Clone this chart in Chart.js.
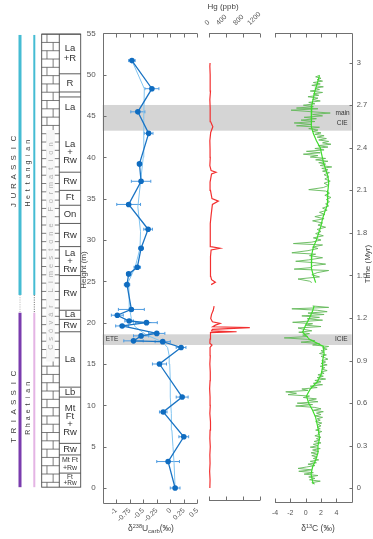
<!DOCTYPE html>
<html><head><meta charset="utf-8">
<script src="https://cdn.jsdelivr.net/npm/chart.js@4.4.1/dist/chart.umd.min.js"></script>
<style>
html,body{margin:0;padding:0;background:#fff;}
#wrap{position:relative;width:373px;height:539px;overflow:hidden;background:#fff}
canvas{position:absolute;left:0;top:0}
</style></head><body><div id="wrap">
<canvas id="cU" width="373" height="539"></canvas>
<canvas id="cHg" width="373" height="539"></canvas>
<canvas id="cC" width="373" height="539"></canvas>
</div>
<script>
// ================= DATA =================
// δ238U carb (height in m, value in ‰, 2σ half-width)
const uHeight = [0.0, 3.2, 6.2, 9.2, 11.0, 15.0, 17.0, 17.7, 17.8, 18.4, 18.7, 19.6, 20.0, 20.2, 20.9, 21.6, 24.6, 25.9, 26.7, 29.0, 31.3, 34.3, 37.1, 39.2, 42.9, 45.5, 48.3, 51.7];
const uValue  = [0.09, -0.04, 0.25, -0.13, 0.22, -0.20, 0.20, -0.14, -0.68, -0.54, -0.25, -0.89, -0.44, -0.76, -0.98, -0.72, -0.80, -0.77, -0.61, -0.54, -0.41, -0.77, -0.54, -0.57, -0.40, -0.60, -0.34, -0.71];
const uErr    = [0.09, 0.21, 0.09, 0.07, 0.11, 0.13, 0.09, 0.14, 0.18, 0.14, 0.15, 0.12, 0.20, 0.08, 0.11, 0.24, 0.05, 0.04, 0.06, 0.04, 0.08, 0.22, 0.18, 0.035, 0.08, 0.13, 0.13, 0.06];
// smoothed δ238U
const uSmoothH = [0, 3, 5, 7, 9, 11, 13, 15, 16, 17, 17.7, 18.5, 19.5, 20.5, 21.6, 23, 25, 26.7, 29, 31, 34, 37, 40, 42.9, 45, 48.3, 51.7];
const uSmoothV = [0.09, 0.07, 0.05, 0.03, 0.02, 0.0, 0.0, -0.01, -0.02, -0.05, -0.15, -0.44, -0.65, -0.72, -0.75, -0.76, -0.77, -0.65, -0.56, -0.55, -0.60, -0.55, -0.50, -0.49, -0.49, -0.48, -0.71];

// Hg (ppb) vs height (m)
const hgSeries = [[0,20],[1,25],[2,15],[3,25],[4,20],[5,30],[6,20],[7,25],[8,35],[9,20],[10,30],[11,25],[12,15],[13,25],[14,30],[15,20],[16,30],[17,25],[17.3,70],[17.5,20],[18,25],[18.5,30],[18.8,40],[18.9,650],[19.0,60],[19.2,80],[19.4,960],[19.5,90],[19.7,150],[19.9,260],[20.1,80],[20.5,40],[21.0,60],[21.5,100],[22.0,120],[null,null],[24.6,50],[24.9,150],[25.2,60],[25.6,40],[26,30],[27,45],[28,30],[28.8,50],[29.0,260],[29.2,40],[30,25],[31,35],[32,30],[33,50],[34.3,80],[34.7,220],[35.0,70],[36,35],[37,25],[38.0,60],[38.2,165],[38.4,50],[39,20],[40,30],[41,25],[42,20],[43,40],[43.7,90],[44.3,40],[45,25],[46,30],[47,20],[48,35],[49,25],[50,30],[51,20],[51.4,25]];

// δ13C raw (time Myr, value ‰)
const c13Raw = [[2.91,1.8],[2.90,1.3],[2.89,2.0],[2.88,1.5],[2.87,2.2],[2.86,1.0],[2.85,1.9],[2.84,0.8],[2.83,2.3],[2.82,1.2],[2.81,1.8],[2.80,0.6],[2.79,2.2],[2.78,1.0],[2.77,1.7],[2.76,0.3],[2.75,1.6],[2.74,0.9],[2.73,1.9],[2.72,0.4],[2.71,1.2],
[2.70,-0.3],[2.69,1.0],[2.68,-1.2],[2.675,1.6],[2.665,-1.9],[2.655,0.6],[2.645,3.2],[2.635,0.9],[2.625,2.2],[2.615,-0.2],[2.605,1.4],[2.595,-0.6],[2.585,1.2],[2.575,-1.5],[2.565,0.8],[2.555,-1.2],[2.545,1.8],[2.535,0.4],[2.525,1.6],[2.515,0.9],
[2.505,2.0],[2.495,1.2],[2.485,2.4],[2.475,1.5],[2.465,2.7],[2.455,1.7],[2.445,3.0],[2.435,2.2],[2.425,3.3],[2.415,1.6],[2.405,2.9],[2.395,1.2],[2.385,2.4],[2.375,0.1],[2.365,1.9],[2.355,-0.3],[2.345,1.6],[2.335,0.6],[2.325,2.6],[2.315,1.3],[2.305,2.9],[2.295,1.7],[2.285,2.6],[2.275,1.9],[2.265,3.4],[2.255,2.1],[2.245,2.9],[2.235,2.2],[2.225,3.1],[2.21,2.4],[2.195,3.0],[2.18,2.5],[2.165,3.2],[2.15,2.4],[2.135,3.0],[2.12,2.3],[2.105,0.4],[2.095,2.6],[2.08,3.1],[2.065,2.5],[2.05,3.3],[2.035,2.7],[2.02,3.1],[2.005,2.6],[1.99,3.0],[1.975,2.2],[1.96,2.8],[1.945,1.8],[1.93,2.5],[1.915,1.2],[1.90,2.4],[1.885,0.9],[1.87,2.2],[1.855,1.6],[1.84,2.6],[1.825,1.5],[1.81,2.0],[1.795,1.3],[1.78,2.3],[1.765,1.0],[1.75,2.0],[1.735,0.8],[1.725,-1.6],[1.715,2.2],[1.70,0.9],[1.69,1.6],[1.675,0.3],[1.66,-1.8],[1.65,1.3],[1.64,0.5],[1.625,2.2],[1.61,0.4],[1.60,-1.3],[1.59,1.2],[1.58,2.6],[1.57,1.0],[1.555,0.6],[1.545,-1.5],[1.535,3.0],[1.52,1.5],[1.505,0.8],[1.49,1.8],[1.475,-1.0],[1.46,0.5],[1.45,0.8],
[null,null],
[1.285,0.9],[1.275,3.0],[1.265,-1.8],[1.255,1.5],[1.245,2.8],[1.235,0.3],[1.225,2.4],[1.215,-0.5],[1.205,1.8],[1.195,0.2],[1.185,2.2],[1.17,-1.7],[1.16,0.9],[1.15,0.0],[1.14,2.0],[1.13,-1.0],[1.12,-0.2],[1.11,0.8],[1.10,-0.9],[1.09,0.5],[1.08,-0.4],[1.07,0.3],[1.06,-2.8],[1.05,0.2],[1.04,1.2],[1.03,-0.6],[1.02,1.8],[1.01,0.9],[1.00,3.0],
[0.99,2.2],[0.98,2.8],[0.97,2.0],[0.96,2.4],[0.95,1.8],[0.94,2.7],[0.93,2.0],[0.92,2.5],[0.91,2.9],[0.90,2.1],[0.89,2.6],[0.88,2.0],[0.87,2.8],[0.86,1.9],[0.85,2.5],[0.84,2.1],[0.83,2.8],[0.82,2.0],[0.81,2.4],[0.80,1.6],[0.79,2.3],[0.78,1.5],[0.77,2.6],[0.76,1.2],[0.75,2.0],[0.74,1.0],[0.73,2.2],[0.72,0.6],[0.71,1.5],[0.70,-0.5],[0.69,0.3],[0.68,-2.6],[0.67,-1.2],[0.66,-2.3],[0.65,0.5],[0.64,-0.3],[0.63,1.4],[0.62,0.4],[0.61,1.6],[0.60,-1.1],[0.59,0.9],[0.58,-1.3],[0.57,1.2],[0.56,2.0],[0.55,1.0],[0.54,2.3],[0.53,1.4],[0.52,2.0],[0.51,1.2],[0.50,2.2],[0.49,1.5],[0.48,1.9],[0.47,1.3],[0.46,2.1],[0.45,1.6],[0.44,2.0],[0.43,1.5],[0.42,1.9],[0.41,1.3],[0.40,2.1],[0.39,1.6],[0.38,1.8],[0.37,1.2],[0.36,2.0],[0.35,1.4],[0.34,1.8],[0.33,1.1],[0.32,2.0],[0.31,1.0],[0.30,1.6],[0.29,0.6],[0.28,1.9],[0.27,0.9],[0.26,1.7],[0.25,0.7],[0.24,1.6],[0.23,0.8],[0.22,1.5],[0.21,1.0],[0.20,1.7],[0.19,0.6],[0.18,1.4],[0.17,0.3],[0.16,1.2],[0.15,0.1],[0.14,-1.0],[0.13,0.8],[0.12,-0.9],[0.11,1.0],[0.10,-0.2],[0.09,1.6],[0.08,0.4],[0.07,1.2],[0.06,0.5],[0.05,1.9],[0.04,0.8],[0.03,1.2]];
// δ13C smoothed
const c13Smooth = [[2.91,1.8],[2.85,1.5],[2.8,1.2],[2.75,1.0],[2.7,0.8],[2.65,0.7],[2.6,0.7],[2.55,0.8],[2.5,1.0],[2.45,1.4],[2.4,1.9],[2.35,2.1],[2.3,2.3],[2.25,2.6],[2.2,2.9],[2.15,3.0],[2.1,2.9],[2.05,2.9],[2.0,2.8],[1.95,2.5],[1.9,2.2],[1.85,2.0],[1.8,1.7],[1.75,1.4],[1.7,1.0],[1.65,0.8],[1.6,0.7],[1.55,0.8],[1.5,1.0],[1.45,1.3],[null,null],[1.285,1.1],[1.25,0.9],[1.2,0.5],[1.15,0.0],[1.1,-0.4],[1.05,0.5],[1.0,2.3],[0.95,2.4],[0.9,2.2],[0.85,2.2],[0.8,2.0],[0.75,1.5],[0.7,0.6],[0.65,0.1],[0.6,0.4],[0.55,0.9],[0.5,1.3],[0.45,1.5],[0.4,1.7],[0.35,1.8],[0.3,1.6],[0.25,1.6],[0.2,1.3],[0.15,0.9],[0.1,0.7],[0.05,0.9],[0.03,1.0]];

// Ticks
const uTicks = [-1, -0.75, -0.5, -0.25, 0, 0.25, 0.5];
const uTickLabels = ['-1', '-0.75', '-0.5', '-0.25', '0', '0.25', '0.5'];
const heightTicks = [0, 5, 10, 15, 20, 25, 30, 35, 40, 45, 50, 55];
const hgTicks = [0, 400, 800, 1200];
const hgTickLabels = ['0', '400', '800', '1200'];
const cTicks = [-4, -2, 0, 2, 4];
const cTickLabels = ['-4', '-2', '0', '2', '4'];
const timeTicks = [0, 0.3, 0.6, 0.9, 1.2, 1.5, 1.8, 2.1, 2.4, 2.7, 3.0];
const timeTickLabels = ['0', '0.3', '0.6', '0.9', '1.2', '1.5', '1.8', '2.1', '2.4', '2.7', '3'];

// Event bands (height m)
const bandTop = [46.33, 18.59];
const bandBase = [43.22, 17.30];

// Lithology column (height m)
const unitTop  = [54.9, 50.1, 47.9, 47.3, 38.2, 36.0, 34.2, 32.0, 29.2, 25.7, 21.5, 20.4, 18.9, 12.2, 11.0, 5.4, 4.0, 1.8];
const unitBase = [50.1, 47.9, 47.3, 38.2, 36.0, 34.2, 32.0, 29.2, 25.7, 21.5, 20.4, 18.9, 12.2, 11.0, 5.4, 4.0, 1.8, 0.1];
const lithLabelH = [52.6, 49.0, 46.1, 40.6, 37.1, 35.1, 33.1, 30.6, 27.4, 23.6, 21.0, 19.65, 15.5, 11.6, 8.2, 4.7, 2.9, 0.95];
const lithLabelText = ['La|+R', 'R', 'La', 'La|+|Rw', 'Rw', 'Ft', 'On', 'Rw', 'La|+|Rw', 'Rw', 'La', 'Rw', 'La', 'Lb', 'Mt|Ft|+|Rw', 'Rw', 'Mt Ft|+Rw', 'Ft|+Rw'];
const formationName = 'Csóvár Limestone Formation';
const formationTop = 43.3, formationBase = 15.3;

// Chronostratigraphy (height m)
const periodNames = ['JURASSIC', 'TRIASSIC'];
const stageNames = ['Hettangian', 'Rhaetian'];
const periodTop = [54.8, 21.2];
const periodBase = [23.35, 0.1];
const boundaryGap = [23.35, 21.2];

// ================= DRAWING =================
Chart.defaults.font.family = "'Liberation Sans', Arial, sans-serif";
Chart.defaults.color = '#555';
const AXIS = '#707070';
const FONT = "'Liberation Sans', Arial, sans-serif";
const NARROW = "'Liberation Sans Narrow', 'Liberation Sans', Arial, sans-serif";

function seg(ctx, x1, y1, x2, y2) { ctx.beginPath(); ctx.moveTo(x1, y1); ctx.lineTo(x2, y2); ctx.stroke(); }
function px(v) { return Math.round(v) + 0.5; }
function spacedVertical(ctx, text, cx, cy, font, pitch, color) {
  ctx.save(); ctx.translate(cx, cy); ctx.rotate(-Math.PI / 2);
  ctx.font = font; ctx.fillStyle = color; ctx.textAlign = 'center'; ctx.textBaseline = 'middle';
  const n = text.length; const start = -pitch * n / 2 + pitch / 2;
  for (let i = 0; i < n; i++) ctx.fillText(text[i], start + i * pitch, 0);
  ctx.restore();
}
function rich(ctx, parts, cx, y, color) {
  ctx.save(); ctx.fillStyle = color; ctx.textBaseline = 'alphabetic'; ctx.textAlign = 'left';
  let total = 0;
  parts.forEach(p => { ctx.font = p[1] + 'px ' + FONT; p.w = ctx.measureText(p[0]).width; total += p.w; });
  let x = cx - total / 2;
  parts.forEach(p => { ctx.font = p[1] + 'px ' + FONT; ctx.fillText(p[0], x, y + p[2]); x += p.w; });
  ctx.restore();
}

const BAND_RIGHT = 351.7;
const COL_L = 41.7, COL_M = 59.3, COL_R = 80.7;

const uPlugin = {
  id: 'uDeco',
  beforeDatasetsDraw(chart) {
    const ctx = chart.ctx, ca = chart.chartArea, xs = chart.scales.x, ys = chart.scales.y;
    ctx.save();
    ctx.fillStyle = '#d5d5d5';
    for (let i = 0; i < bandTop.length; i++) {
      const y1 = ys.getPixelForValue(bandTop[i]), y2 = ys.getPixelForValue(bandBase[i]);
      ctx.fillRect(ca.left, y1, BAND_RIGHT - ca.left, y2 - y1);
    }
    ctx.fillStyle = '#333'; ctx.font = '6.5px ' + FONT; ctx.textBaseline = 'middle';
    ctx.textAlign = 'left';
    ctx.fillText('ETE', ca.left + 3, ys.getPixelForValue((bandTop[1] + bandBase[1]) / 2));
    ctx.textAlign = 'right';
    ctx.fillText('ICIE', BAND_RIGHT - 4, ys.getPixelForValue((bandTop[1] + bandBase[1]) / 2));
    const mc = ys.getPixelForValue((bandTop[0] + bandBase[0]) / 2);
    ctx.fillText('main', BAND_RIGHT - 2, mc - 5);
    ctx.fillText('CIE', BAND_RIGHT - 4, mc + 5);
    // error bars
    ctx.strokeStyle = '#4d9be0'; ctx.lineWidth = 1;
    for (let i = 0; i < uHeight.length; i++) {
      const y = ys.getPixelForValue(uHeight[i]);
      const x1 = xs.getPixelForValue(uValue[i] - uErr[i]), x2 = xs.getPixelForValue(uValue[i] + uErr[i]);
      seg(ctx, x1, y, x2, y); seg(ctx, x1, y - 1.5, x1, y + 1.5); seg(ctx, x2, y - 1.5, x2, y + 1.5);
    }
    ctx.restore();
  },
  afterDraw(chart) {
    const ctx = chart.ctx, ca = chart.chartArea, xs = chart.scales.x, ys = chart.scales.y;
    ctx.save();
    ctx.strokeStyle = AXIS; ctx.lineWidth = 1;
    const top = px(ca.top), bot = px(ca.bottom), left = px(ca.left);
    seg(ctx, left, top, ca.right, top); seg(ctx, left, bot, ca.right, bot); seg(ctx, left, top, left, bot);
    uTicks.forEach(v => { const x = px(xs.getPixelForValue(v)); seg(ctx, x, top, x, top + 4); seg(ctx, x, bot, x, bot - 4); });
    heightTicks.forEach(h => { const y = px(ys.getPixelForValue(h)); seg(ctx, left, y, left + 3, y); });
    // titles
    ctx.fillStyle = '#444'; ctx.font = '8px ' + FONT; ctx.textAlign = 'center'; ctx.textBaseline = 'middle';
    ctx.save(); ctx.translate(84, 270); ctx.rotate(-Math.PI / 2); ctx.fillText('Height (m)', 0, 0); ctx.restore();
    rich(ctx, [['δ', 8.5, 0], ['238', 5.5, -3.5], ['U', 8.5, 0], ['carb', 6, 1.5], ['(‰)', 8.5, 0]], 151, 531, '#444');

    // ---- lithology column ----
    const yT = ys.getPixelForValue(unitTop[0]), yB = ys.getPixelForValue(unitBase[unitBase.length - 1]);
    ctx.fillStyle = '#fff'; ctx.fillRect(COL_L, yT, COL_R - COL_L, yB - yT);
    ctx.strokeStyle = '#5a5a5a'; ctx.lineWidth = 0.8;
    const rowH = 8.3, w = COL_M - COL_L;
    let r = 0;
    for (let y = yT; y < yB - 0.5; y += rowH, r++) {
      const y2 = Math.min(y + rowH, yB);
      seg(ctx, COL_L, y, COL_M, y);
      const jx = COL_L + (r % 2 ? 0.65 : 0.3) * w;
      seg(ctx, jx, y, jx, y2);
    }
    // formation name mask + text
    const fy1 = ys.getPixelForValue(formationTop), fy2 = ys.getPixelForValue(formationBase);
    ctx.fillStyle = '#f6f6f6'; ctx.fillRect(COL_L + 4.5, fy1, w - 9, fy2 - fy1);
    spacedVertical(ctx, formationName, (COL_L + COL_M) / 2 + 0.5, (fy1 + fy2) / 2, '7.5px ' + FONT, 8.1, '#b0b0b0');
    // boxes
    ctx.strokeStyle = '#4a4a4a'; ctx.lineWidth = 0.9;
    ctx.strokeRect(COL_L, yT, COL_R - COL_L, yB - yT);
    seg(ctx, COL_M, yT, COL_M, yB);
    for (let i = 0; i < unitTop.length; i++) { const y = ys.getPixelForValue(unitTop[i]); seg(ctx, COL_M, y, COL_R, y); }
    // labels
    ctx.fillStyle = '#333'; ctx.textAlign = 'center'; ctx.textBaseline = 'middle';
    for (let i = 0; i < lithLabelText.length; i++) {
      const lines = lithLabelText[i].split('|');
      const small = lithLabelText[i].indexOf(' ') >= 0 || (lines.length === 2 && lines[1] === '+Rw');
      const fs = small ? (lines[0] === 'Ft' ? 6.5 : 7) : 9.5;
      const lh = lines.length === 2 ? (small ? (fs < 7 ? 6.2 : 8.4) : 10.5) : 7.8;
      ctx.font = fs + 'px ' + NARROW;
      const cy = ys.getPixelForValue(lithLabelH[i]);
      const cx = (COL_M + COL_R) / 2;
      lines.forEach((s, k) => ctx.fillText(s, cx, cy + (k - (lines.length - 1) / 2) * lh));
    }
    // ---- period / stage bars ----
    const barX = [20, 34.3], barW = [3, 2];
    const colA = ['#45bcd3', '#7a3cae'], colB = ['#45bcd3', '#e4b4e4'];
    for (let i = 0; i < 2; i++) {
      const y1 = ys.getPixelForValue(periodTop[i]), y2 = ys.getPixelForValue(periodBase[i]);
      ctx.fillStyle = colA[i]; ctx.fillRect(barX[0] - barW[0] / 2, y1, barW[0], y2 - y1);
      ctx.fillStyle = colB[i]; ctx.fillRect(barX[1] - barW[1] / 2, y1, barW[1], y2 - y1);
      const cy = (y1 + y2) / 2 + 7;
      spacedVertical(ctx, periodNames[i], 13.3, cy, '8px ' + FONT, 9.5, '#3a3a3a');
      spacedVertical(ctx, stageNames[i], 28, cy + 1, '7px ' + FONT, 6.9, '#3a3a3a');
    }
    const g1 = ys.getPixelForValue(boundaryGap[0]), g2 = ys.getPixelForValue(boundaryGap[1]);
    ctx.setLineDash([1, 1.3]); ctx.lineWidth = 1.2;
    ctx.strokeStyle = '#c0c0c0'; seg(ctx, barX[0], g1, barX[0], g2);
    ctx.strokeStyle = '#555'; ctx.lineWidth = 0.9; seg(ctx, barX[1], g1, barX[1], g2);
    ctx.setLineDash([]);
    ctx.restore();
  }
};

const hgPlugin = {
  id: 'hgDeco',
  afterDraw(chart) {
    const ctx = chart.ctx, ca = chart.chartArea, xs = chart.scales.x;
    ctx.save(); ctx.strokeStyle = AXIS; ctx.lineWidth = 1;
    const top = px(ca.top), bot = px(ca.bottom);
    seg(ctx, ca.left, top, ca.right, top); seg(ctx, ca.left, bot, ca.right, bot);
    hgTicks.forEach(v => { const x = px(xs.getPixelForValue(v)); seg(ctx, x, top, x, top + 4); seg(ctx, x, bot, x, bot - 4); });
    ctx.fillStyle = '#555'; ctx.font = '7px ' + FONT; ctx.textAlign = 'left'; ctx.textBaseline = 'alphabetic';
    hgTicks.forEach((v, i) => {
      const x = xs.getPixelForValue(v); const t = hgTickLabels[i]; const w = ctx.measureText(t).width;
      ctx.save(); ctx.translate(x - 0.71 * w + 1, 25.5); ctx.rotate(-Math.PI / 4); ctx.fillText(t, 0, 0); ctx.restore();
    });
    ctx.fillStyle = '#444'; ctx.font = '8px ' + FONT; ctx.textAlign = 'center'; ctx.textBaseline = 'middle';
    ctx.fillText('Hg (ppb)', 223, 7);
    ctx.restore();
  }
};

const cPlugin = {
  id: 'cDeco',
  afterDraw(chart) {
    const ctx = chart.ctx, ca = chart.chartArea, xs = chart.scales.x, ys = chart.scales.y;
    ctx.save(); ctx.strokeStyle = AXIS; ctx.lineWidth = 1;
    const top = px(ca.top), bot = px(ca.bottom), right = px(ca.right);
    seg(ctx, ca.left, top, right, top); seg(ctx, ca.left, bot, right, bot); seg(ctx, right, top, right, bot);
    cTicks.forEach(v => { const x = px(xs.getPixelForValue(v)); seg(ctx, x, top, x, top + 4); seg(ctx, x, bot, x, bot - 4); });
    timeTicks.forEach(v => { const y = px(ys.getPixelForValue(v)); seg(ctx, right, y, right - 3, y); });
    ctx.fillStyle = '#444'; ctx.font = '8px ' + FONT; ctx.textAlign = 'center'; ctx.textBaseline = 'middle';
    ctx.save(); ctx.translate(368, 264); ctx.rotate(-Math.PI / 2); ctx.fillText('Time (Myr)', 0, 0); ctx.restore();
    rich(ctx, [['δ', 8.5, 0], ['13', 5.5, -3.5], ['C (‰)', 8.5, 0]], 318, 531, '#444');
    ctx.restore();
  }
};

const baseOpts = { responsive: false, animation: false, devicePixelRatio: 1, plugins: { legend: { display: false }, tooltip: { enabled: false } } };
function fixTicks(arr) { return s => { s.ticks = arr.map(v => ({ value: v })); }; }

// ---- U chart ----
new Chart(document.getElementById('cU'), {
  type: 'scatter',
  data: { datasets: [
    { data: uSmoothH.map((h, i) => ({ x: uSmoothV[i], y: h })), showLine: true, borderColor: '#80c4f0', borderWidth: 1, pointRadius: 0, order: 2 },
    { data: uHeight.map((h, i) => ({ x: uValue[i], y: h })), showLine: true, borderColor: '#1a74c4', borderWidth: 1.3, pointRadius: 2.8, pointBackgroundColor: '#0f6cc0', pointBorderColor: '#0f6cc0', pointBorderWidth: 0, order: 1 }
  ] },
  options: Object.assign({}, baseOpts, {
    layout: { padding: { left: 72.7, right: 175.7, top: 33.3, bottom: 5.7 } },
    scales: {
      x: { type: 'linear', min: -1.25, max: 0.5, afterBuildTicks: fixTicks(uTicks), afterFit: s => { s.height = 30; },
           grid: { display: false, drawTicks: false }, border: { display: false },
           ticks: { autoSkip: false, minRotation: 45, maxRotation: 45, padding: 3, color: '#555', font: { size: 7 }, callback: (v, i) => uTickLabels[i] } },
      y: { type: 'linear', min: -1.85, max: 55, afterBuildTicks: fixTicks(heightTicks), afterFit: s => { s.width = 30; },
           grid: { display: false, drawTicks: false }, border: { display: false },
           ticks: { autoSkip: false, padding: 7, color: '#555', font: { size: 8 } } }
    }
  }),
  plugins: [uPlugin]
});

// ---- Hg chart ----
new Chart(document.getElementById('cHg'), {
  type: 'scatter',
  data: { datasets: [
    { data: hgSeries.map(p => ({ x: p[1], y: p[0] })), showLine: true, spanGaps: false, borderColor: '#f23030', borderWidth: 1.2, pointRadius: 0 }
  ] },
  options: Object.assign({}, baseOpts, {
    layout: { padding: { left: 209, right: 113, top: 33.3, bottom: 39 } },
    scales: {
      x: { type: 'linear', display: false, min: 0, max: 1200 },
      y: { type: 'linear', display: false, min: -1.45, max: 55 }
    }
  }),
  plugins: [hgPlugin]
});

// ---- δ13C chart ----
new Chart(document.getElementById('cC'), {
  type: 'scatter',
  data: { datasets: [
    { data: c13Smooth.map(p => ({ x: p[1], y: p[0] })), showLine: true, spanGaps: false, borderColor: '#3fdc2c', borderWidth: 1.2, pointRadius: 0, order: 1 },
    { data: c13Raw.map(p => ({ x: p[1], y: p[0] })), showLine: true, spanGaps: false, borderColor: 'rgba(100,185,90,0.9)', borderWidth: 1.0, pointRadius: 0, order: 2 }
  ] },
  options: Object.assign({}, baseOpts, {
    layout: { padding: { left: 275, right: 0, top: 33.3, bottom: 12.3 } },
    scales: {
      x: { type: 'linear', min: -4, max: 6, afterBuildTicks: fixTicks(cTicks), afterFit: s => { s.height = 25; },
           grid: { display: false, drawTicks: false }, border: { display: false },
           ticks: { autoSkip: false, maxRotation: 0, minRotation: 0, padding: 7, color: '#555', font: { size: 7 }, callback: (v, i) => cTickLabels[i] } },
      y: { type: 'linear', position: 'right', min: -0.0945, max: 3.207, afterBuildTicks: fixTicks(timeTicks), afterFit: s => { s.width = 21.3; },
           grid: { display: false, drawTicks: false }, border: { display: false },
           ticks: { autoSkip: false, padding: 5, color: '#555', font: { size: 7.5 }, callback: (v, i) => timeTickLabels[i] } }
    }
  }),
  plugins: [cPlugin]
});
</script></body></html>
